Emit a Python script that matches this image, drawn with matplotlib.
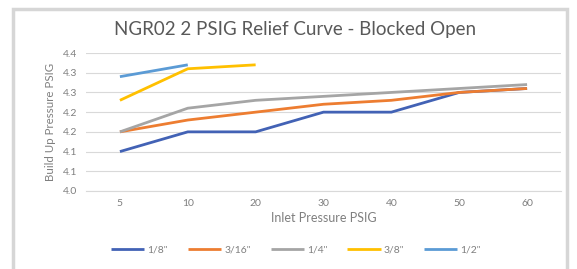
import numpy as np
import matplotlib.pyplot as plt
from matplotlib.patches import Rectangle
from matplotlib.ticker import FixedLocator, FuncFormatter

plt.rcParams['font.family'] = ['Lato', 'DejaVu Sans']

inlet = ["5", "10", "20", "30", "40", "50", "60"]
sizes = ['1/8"', '3/16"', '1/4"', '3/8"', '1/2"']

p_eighth = [4.10, 4.15, 4.15, 4.20, 4.20, 4.25, 4.26]
p_3_16 = [4.15, 4.18, 4.20, 4.22, 4.23, 4.25, 4.26]
p_quarter = [4.15, 4.21, 4.23, 4.24, 4.25, 4.26, 4.27]
p_3_8 = [4.23, 4.31, 4.32]
p_half = [4.29, 4.32]

colors = ["#4262B5", "#ED7D31", "#A5A5A5", "#FFC000", "#5B9BD5"]

fig = plt.figure(figsize=(5.77, 2.69), dpi=100)
fig.patches.append(Rectangle((13/577, -0.1), 554/577, 1.1 - 9/269, transform=fig.transFigure,
                             fill=False, edgecolor="#d6d6d6", linewidth=2.5))

ax = fig.add_axes([86/577, (269-191)/269, 475/577, 138/269])

x = np.arange(len(inlet))
series = [p_eighth, p_3_16, p_quarter, p_3_8, p_half]
for vals, lab, c in zip(series, sizes, colors):
    ax.plot(x[:len(vals)], vals, color=c, lw=2.0, label=lab, solid_capstyle="butt")

ax.set_xlim(-0.5, len(inlet) - 0.5)
ax.set_ylim(4.0, 4.35)
ax.set_xticks(x)
ax.set_xticklabels(inlet)
ax.yaxis.set_major_locator(FixedLocator(np.arange(4.0, 4.351, 0.05)))
ax.yaxis.set_major_formatter(FuncFormatter(lambda v, p: f"{np.floor(v*10 + 0.5 + 1e-9)/10:.1f}"))
ax.tick_params(length=0, labelsize=7.5, colors="#7f7f7f", pad=6)
ax.grid(axis="y", color="#d9d9d9", lw=0.8)
ax.set_axisbelow(True)
for s in ["top", "right", "left"]:
    ax.spines[s].set_visible(False)
ax.spines["bottom"].set_color("#d9d9d9")
ax.spines["bottom"].set_linewidth(0.8)

ax.set_xlabel("Inlet Pressure PSIG", fontsize=9, color="#7f7f7f", labelpad=3)
ax.set_ylabel("Build Up Pressure PSIG", fontsize=8.3, color="#7f7f7f", labelpad=5)
fig.text(295/577, (269-29)/269, "NGR02 2 PSIG Relief Curve - Blocked Open",
         ha="center", va="center", fontsize=13.5, color="#595959")

fig.legend(loc="center", bbox_to_anchor=(296/577, 19/269), ncol=5, frameon=False,
           fontsize=7.5, labelcolor="#7f7f7f", handlelength=3.2, handletextpad=0.3,
           columnspacing=1.9)

fig.savefig("out.png", dpi=100)
